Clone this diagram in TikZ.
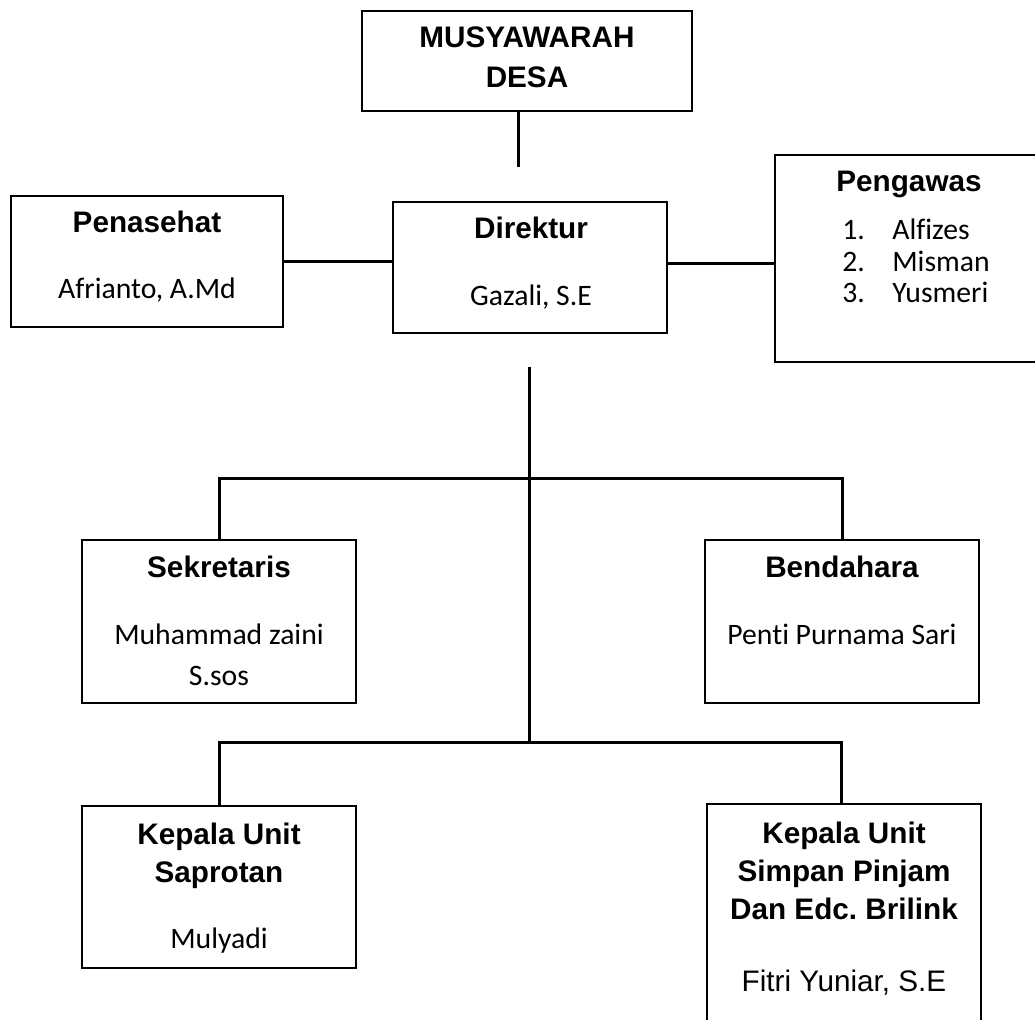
\documentclass[tikz,border=0pt]{standalone}
\usepackage{fontspec}
\setmainfont{Carlito}[Ligatures=CommonOff]
\newfontfamily\arialfont{Liberation Sans}
\newlength\px
\setlength\px{0.02cm}
\frenchspacing

\begin{document}
\begin{tikzpicture}[x=0.02cm,y=-0.02cm,
  box/.style={draw,line width=1.5\px,minimum width=274\px,inner sep=0},
  headtxt/.style={font=\arialfont\bfseries\fontsize{16.9}{20}\selectfont,anchor=base,inner sep=0},
  nametxt/.style={font=\fontsize{16.9}{20}\selectfont,anchor=base,inner sep=0},
  link/.style={line width=3\px}]
\useasboundingbox (0,0) rectangle (1035,1020);
\clip (0,0) rectangle (1035,1020);

% boxes
\node[box,minimum width=330\px,minimum height=100\px] (musy) at (527,61) {};
\node[box,minimum width=272\px,minimum height=131\px] (pen) at (147,261.5) {};
\node[box,minimum height=131\px] (dir) at (530,267.5) {};
\node[box,minimum width=275\px,minimum height=207\px] (peng) at (912.5,258.5) {};
\node[box,minimum height=163\px] (sek) at (219,621.5) {};
\node[box,minimum height=163\px] (bend) at (842,621.5) {};
\node[box,minimum height=162\px] (sap) at (219,887) {};
\node[box,minimum height=226\px] (simp) at (844,917) {};

% texts
\node[headtxt] (musyA) at (527,48) {MUSYAWARAH};
\node[headtxt] (musyB) at (527,88) {DESA};
\node[headtxt] (penT) at (147,233) {Penasehat};
\node[nametxt] (penN) at (147,299) {Afrianto, A.Md};
\node[headtxt] (dirT) at (531,239) {Direktur};
\node[nametxt] (dirN) at (531,306) {Gazali, S.E};
\node[headtxt] (pengT) at (909,192) {Pengawas};
\foreach \who [count=\i] in {Alfizes,Misman,Yusmeri}{
  \node[nametxt,anchor=base west] (pengnum\i) at (842,208.5+31.5*\i) {\i.};
  \node[nametxt,anchor=base west] (peng\i) at (892,208.5+31.5*\i) {\who};
}
\node[headtxt] (sekT) at (219,578) {Sekretaris};
\node[nametxt] (sekN) at (219,644) {Muhammad zaini};
\node[nametxt] (sekM) at (219,685) {S.sos};
\node[headtxt] (bendT) at (842,578) {Bendahara};
\node[nametxt] (bendN) at (842,644) {Penti Purnama Sari};
\node[headtxt] (sapT) at (219,844) {Kepala Unit};
\node[headtxt] (sapU) at (219,882) {Saprotan};
\node[nametxt] (sapN) at (219,948) {Mulyadi};
\node[headtxt] (simpT) at (844,843) {Kepala Unit};
\node[headtxt] (simpU) at (844,881) {Simpan Pinjam};
\node[headtxt] (simpV) at (844,919) {Dan Edc. Brilink};
\node[headtxt,font=\arialfont\fontsize{16.9}{20}\selectfont] (simpN) at (844,991) {Fitri Yuniar, S.E};

% lines
\coordinate (musyEnd) at (518,167);
\coordinate (trunkTop) at (529,367);
\coordinate (trunkBot) at (529,742);
\coordinate (busA) at (529,479);
\draw[link] (musyEnd |- musy.south) -- (musyEnd);
\draw[link] (pen.east) -- (pen.east -| dir.west);
\draw[link] ([yshift=3.5\px]dir.east) coordinate (dirR) -- (dirR -| peng.west);
\draw[link] (trunkTop) -- (trunkBot);
\draw[link] (sek.north) -- (sek.north |- busA) -- (bend.north |- busA) -- (bend.north);
\draw[link] (sap.north) |- (trunkBot) -| ([xshift=-3\px]simp.north);
\end{tikzpicture}
\end{document}
